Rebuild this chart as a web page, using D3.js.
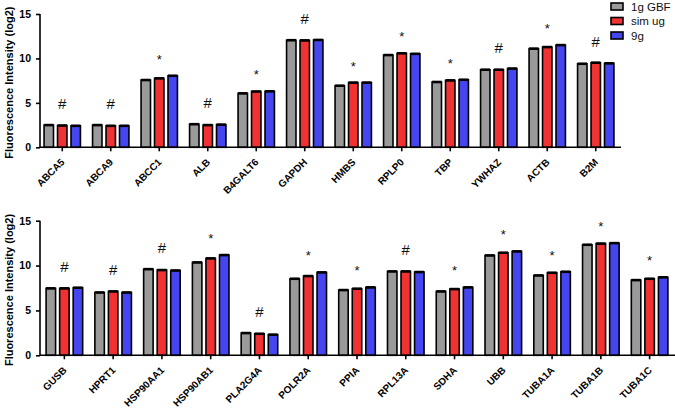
<!DOCTYPE html>
<html><head><meta charset="utf-8">
<script src="https://cdn.jsdelivr.net/npm/d3@7/dist/d3.min.js"></script>
<style>body{margin:0;background:#fff}svg{display:block}text{font-family:"Liberation Sans",Arial,Helvetica,sans-serif}</style>
</head><body><svg id="c" width="675" height="408"></svg>
<script>
const series = ["1g GBF", "sim ug", "9g"];
const colors = ["#9a9a9a", "#f03232", "#4646f0"];
const yTicks = [0, 5, 10, 15];

const topGenes = ["ABCA5","ABCA9","ABCC1","ALB","B4GALT6","GAPDH","HMBS","RPLP0","TBP","YWHAZ","ACTB","B2M"];
const topGBF   = [2.5, 2.5, 7.57, 2.6, 6.07, 12.05, 6.93, 10.38, 7.35, 8.73, 11.1, 9.4];
const topSim   = [2.45, 2.42, 7.76, 2.5, 6.28, 12.03, 7.28, 10.58, 7.53, 8.73, 11.28, 9.52];
const top9g    = [2.42, 2.42, 8.05, 2.55, 6.3, 12.08, 7.28, 10.52, 7.6, 8.86, 11.5, 9.45];
const topMarks = ["#","#","*","#","*","#","*","*","*","#","*","#"];

const botGenes = ["GUSB","HPRT1","HSP90AA1","HSP90AB1","PLA2G4A","POLR2A","PPIA","RPL13A","SDHA","UBB","TUBA1A","TUBA1B","TUBA1C"];
const botGBF   = [7.46, 7.0, 9.6, 10.35, 2.48, 8.53, 7.27, 9.35, 7.12, 11.13, 8.9, 12.32, 8.38];
const botSim   = [7.46, 7.12, 9.5, 10.8, 2.4, 8.83, 7.42, 9.35, 7.38, 11.43, 9.2, 12.45, 8.53];
const bot9g    = [7.53, 7.0, 9.45, 11.17, 2.3, 9.24, 7.57, 9.28, 7.57, 11.58, 9.31, 12.5, 8.69];
const botMarks = ["#","#","#","*","#","*","*","#","*","*","*","*","*"];

const svg = d3.select("#c");

function panel(genes, vals, marks, xr, yr) {
  const g = svg.append("g");
  const x0 = d3.scaleBand().domain(genes).range(xr).paddingInner(0.25).paddingOuter(0.125);
  const x1 = d3.scaleBand().domain(series).range([0, x0.bandwidth()]).paddingInner(0.3).paddingOuter(0);
  const y = d3.scaleLinear().domain([0, 15]).range(yr);
  const axisX = 40;

  genes.forEach((gene, i) => {
    series.forEach((s, k) => {
      const v = vals[k][i];
      g.append("rect")
        .attr("x", x0(gene) + x1(s))
        .attr("y", y(v))
        .attr("width", x1.bandwidth())
        .attr("height", y(0) - y(v))
        .attr("fill", colors[k])
        .attr("stroke", "#000")
        .attr("stroke-width", 1.6);
      g.append("line")
        .attr("x1", x0(gene) + x1(s)).attr("x2", x0(gene) + x1(s) + x1.bandwidth())
        .attr("y1", y(v)).attr("y2", y(v))
        .attr("stroke", "#000").attr("stroke-width", 2.6);
    });
    const mx = Math.max(vals[0][i], vals[1][i], vals[2][i]);
    const m = marks[i];
    g.append("text")
      .attr("x", x0(gene) + x0.bandwidth() / 2)
      .attr("y", y(mx) - (m === "#" ? 16 : 12))
      .attr("text-anchor", "middle")
      .attr("font-size", m === "#" ? 15 : 13)
      .attr("fill", "#111")
      .text(m);
  });

  // y axis
  const ya = g.append("g").attr("transform", `translate(${axisX},0)`)
    .call(d3.axisLeft(y).tickValues(yTicks).tickSize(4).tickPadding(5));
  ya.select(".domain").attr("stroke-width", 1.6).attr("d", `M0,${y(15)}V${y(0)}`);
  ya.selectAll(".tick line").attr("stroke-width", 1.6);
  ya.selectAll(".tick text").attr("font-size", 10.5).attr("font-weight", "bold").attr("fill", "#000");

  // x axis
  const xa = g.append("g").attr("transform", `translate(0,${y(0)})`)
    .call(d3.axisBottom(x0).tickSize(4).tickSizeOuter(0));
  xa.select(".domain").attr("stroke-width", 1.6).attr("d", `M${axisX},0H${xr[1] + 1}`);
  xa.selectAll(".tick line").attr("stroke-width", 1.6);
  xa.selectAll(".tick text")
    .attr("font-size", 10).attr("font-weight", "bold").attr("fill", "#000")
    .attr("text-anchor", "end")
    .attr("x", 0).attr("y", 0).attr("dy", "0")
    .attr("transform", "translate(3,15.5) rotate(-45)");

  // y title
  g.append("text")
    .attr("transform", `translate(13,${(yr[0] + yr[1]) / 2 + 2}) rotate(-90)`)
    .attr("text-anchor", "middle")
    .attr("font-size", 11).attr("font-weight", "bold")
    .text("Fluorescence Intensity (log2)");
}

panel(topGenes, [topGBF, topSim, top9g], topMarks, [38, 620], [147.3, 14]);
panel(botGenes, [botGBF, botSim, bot9g], botMarks, [40, 674], [355.3, 220.7]);

// legend
const lg = svg.append("g");
series.forEach((s, k) => {
  lg.append("rect").attr("x", 611).attr("y", 3 + k * 14.5).attr("width", 12).attr("height", 7)
    .attr("fill", colors[k]).attr("stroke", "#000").attr("stroke-width", 1.6);
  lg.append("text").attr("x", 631).attr("y", 6.5 + k * 14.5).attr("dy", "0.35em")
    .attr("font-size", 11.5).attr("fill", "#111").text(s);
});
</script></body></html>
